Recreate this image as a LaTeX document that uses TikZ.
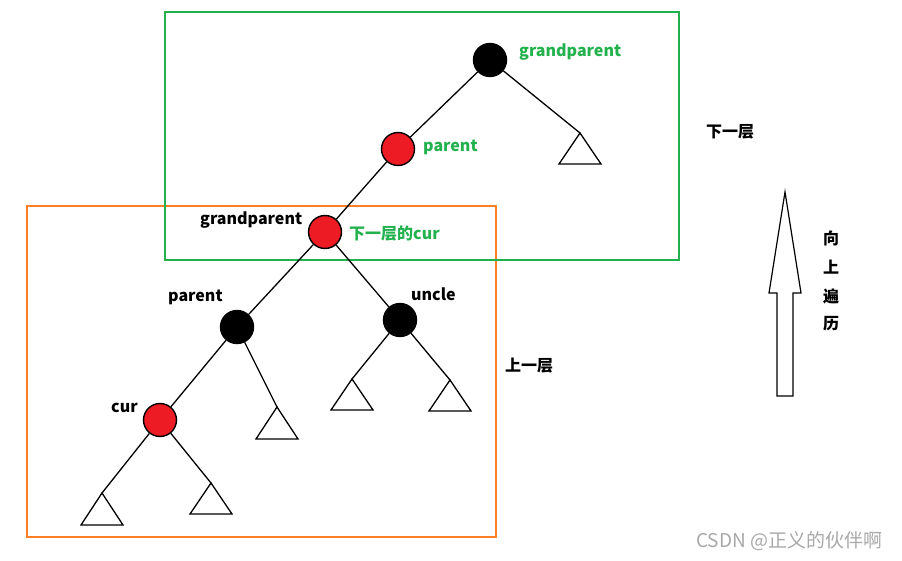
\documentclass[tikz,border=0pt]{standalone}
\usepackage{fontspec}
\setmainfont{Noto Sans CJK SC}
\definecolor{pgreen}{HTML}{22B14C}
\definecolor{porange}{HTML}{FF7F27}
\definecolor{pred}{HTML}{ED1C24}
\definecolor{wmgray}{HTML}{A8A8A8}
\begin{document}
\begin{tikzpicture}[x=1pt,y=-1pt,
  rb/.style={circle,draw=black,line width=1.4pt,minimum size=33pt,inner sep=0pt},
  rednode/.style={rb,fill=pred},
  blacknode/.style={rb,fill=black},
  edge/.style={line width=1.3pt},
  tri/.style={line width=1.3pt},
  lab/.style={font=\fontsize{16}{16}\selectfont\bfseries,anchor=west,inner sep=0pt},
  glab/.style={lab,text=pgreen},
  cjk/.style={font=\fontsize{16}{16}\selectfont\bfseries,inner sep=0pt}
]
\useasboundingbox (0,0) rectangle (902,561);
% boxes
\draw[porange,line width=1.2pt] (27,206) rectangle (496,537);
\draw[pgreen,line width=1.2pt] (165,12) rectangle (679,260);
% nodes
\node[blacknode] (g1) at (490,60) {};
\node[rednode] (p1) at (398,149) {};
\node[rednode] (g0) at (325,232) {};
\node[blacknode] (p0) at (237,327) {};
\node[blacknode] (u0) at (400,320) {};
\node[rednode] (c0) at (160,420) {};
% triangle apexes
\coordinate (t1) at (580,133);
\coordinate (t2) at (277,407);
\coordinate (t3) at (352,379);
\coordinate (t4) at (450,380);
\coordinate (t5) at (102,493);
\coordinate (t6) at (211,483);
\foreach \a/\h/\w in {t1/31/21, t2/32/21, t3/31/21, t4/31/21, t5/32/21, t6/31/21}{
  \draw[tri,line join=miter] (\a) -- ++(\w,\h) -- ++(-2*\w,0) -- cycle;
}
% edges
\draw[edge] (g1) -- (p1);
\draw[edge] (g1) -- (t1);
\draw[edge] (p1) -- (g0);
\draw[edge] (g0) -- (p0);
\draw[edge] (g0) -- (u0);
\draw[edge] (p0) -- (c0);
\draw[edge] (p0) -- (t2);
\draw[edge] (u0) -- (t3);
\draw[edge] (u0) -- (t4);
\draw[edge] (c0) -- (t5);
\draw[edge] (c0) -- (t6);
% labels
\node[glab] (lg1) at (519,52) {grandparent};
\node[glab] (lp1) at (423,147) {parent};
\node[lab] (lg0) at (200,220) {grandparent};
\node[glab] (lnc) at (349,234) {下一层的cur};
\node[lab] (lp0) at (168,297) {parent};
\node[lab] (lu0) at (411,294) {uncle};
\node[lab] (lc0) at (111,408) {cur};
\node[lab] (lnext) at (706,132) {下一层};
\node[lab] (lprev) at (505,366) {上一层};
\node[cjk] (v1) at (831,238) {向};
\node[cjk] (v2) at (831,267) {上};
\node[cjk] (v3) at (831,296) {遍};
\node[cjk] (v4) at (831,324) {历};
% big arrow
\draw[line width=1.2pt,line join=miter] (777,396) -- (777,293) -- (769,293) -- (785,192) -- (801,293) -- (793,293) -- (793,396) -- cycle;
% watermark
\node[font=\fontsize{19}{19}\selectfont,text=wmgray,anchor=west,inner sep=0pt] (wm) at (696,541) {CSDN @正义的伙伴啊};
\end{tikzpicture}
\end{document}
